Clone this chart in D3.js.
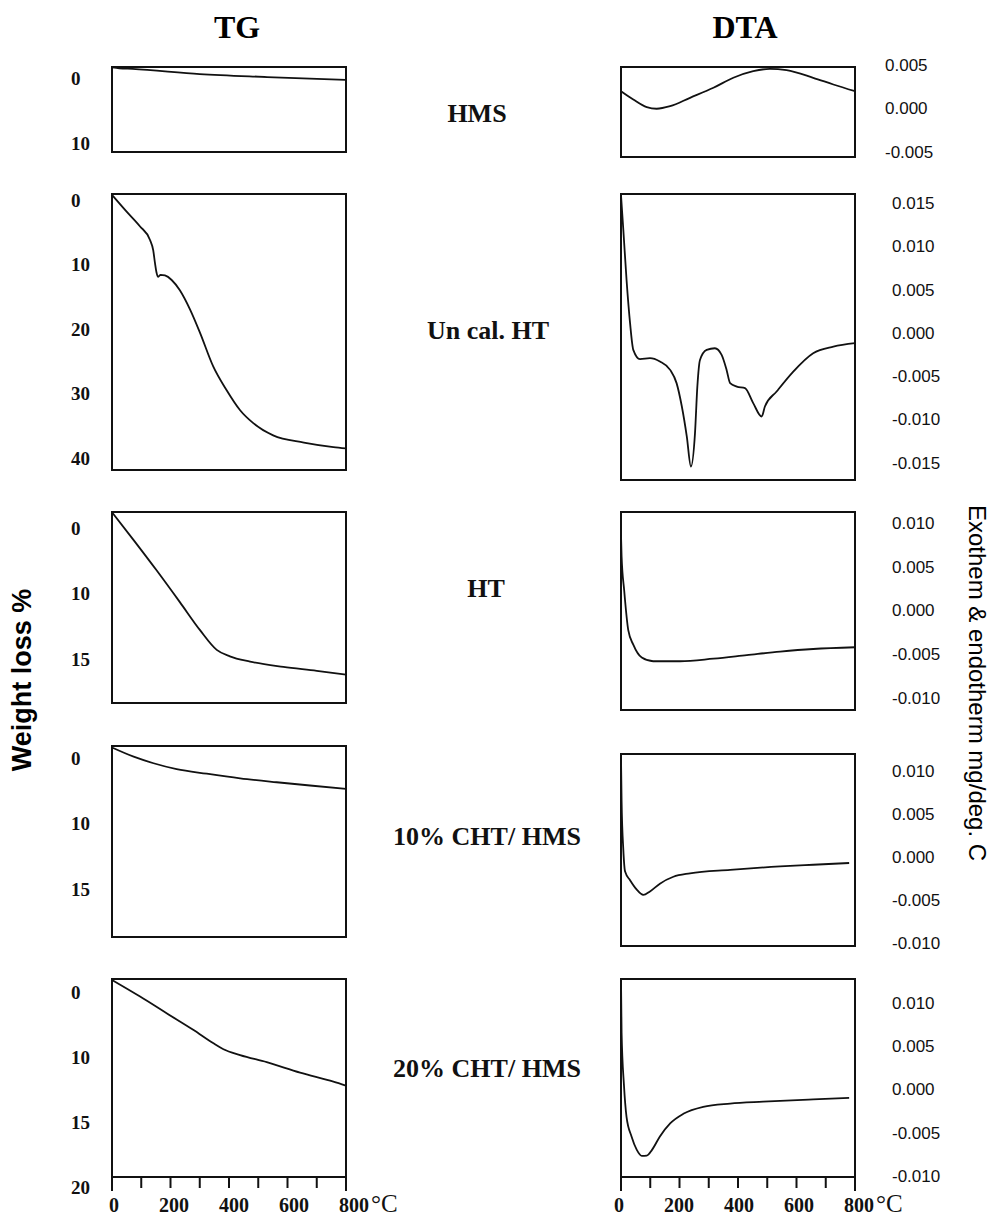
<!DOCTYPE html>
<html><head><meta charset="utf-8">
<script src="https://cdn.jsdelivr.net/npm/d3@7"></script>
<style>body{margin:0;background:#fff}</style>
</head><body>
<svg id="c" width="993" height="1219"></svg>
<script>
// ---------------- DATA ----------------
const samples = ["HMS", "Un cal. HT", "HT", "10% CHT/ HMS", "20% CHT/ HMS"];
const tempTicks = [0, 100, 200, 300, 400, 500, 600, 700, 800];
const tempLabels = [0, 200, 400, 600, 800];
const tempUnit = "°C";

// TG tick labels (weight loss %) per sample
const tgTickLabels = [
  [0, 10],
  [0, 10, 20, 30, 40],
  [0, 10, 15],
  [0, 10, 15],
  [0, 10, 15, 20]
];
// DTA tick labels (mg/deg. C) per sample
const dtaTickLabels = [
  [0.005, 0.000, -0.005],
  [0.015, 0.010, 0.005, 0.000, -0.005, -0.010, -0.015],
  [0.010, 0.005, 0.000, -0.005, -0.010],
  [0.010, 0.005, 0.000, -0.005, -0.010],
  [0.010, 0.005, 0.000, -0.005, -0.010]
];

// TG curves: [temperature °C, weight loss %]
const tgHMS = [[0,-1.63],[25,-1.5],[70,-1.4],[300,-0.6],[530,-0.15],[800,0.3]];
const tgUncalHT = [[0,-0.8],[50,1.8],[96,4.1],[130,6.2],[141,7.8],[147,9.8],[152,11.2],[158,11.9],[166,11.6],[181,11.7],[204,12.4],[232,14.0],[267,17.0],[301,20.6],[346,25.8],[392,29.5],[438,32.6],[483,34.6],[551,36.5],[656,37.6],[757,38.3],[800,38.5]];
const tgHT = [[0,-2.4],[74,1.85],[153,6.5],[232,10.66],[301,12.8],[358,14.3],[403,14.8],[472,15.2],[586,15.6],[700,15.9],[800,16.2]];
const tg10CHT = [[0,-1.6],[74,-0.2],[142,0.8],[221,1.7],[324,2.4],[438,3.1],[563,3.7],[677,4.2],[800,4.7]];
const tg20CHT = [[0,-1.85],[96,0.7],[188,3.3],[279,5.85],[347,7.9],[381,8.8],[438,9.7],[529,10.4],[643,11.2],[757,11.9],[800,12.2]];

// DTA curves: [temperature °C, signal mg/deg. C]
const dtaHMS = [[0,0.00199],[42,0.00103],[88,0.00015],[122,-0.00003],[168,0.00026],[236,0.00123],[316,0.00238],[384,0.00353],[452,0.00429],[509,0.00456],[566,0.0044],[657,0.00353],[726,0.00276],[800,0.00199]];
const dtaUncalHT = [[0,0.0159],[8,0.01188],[19,0.00611],[31,0.00112],[42,-0.00196],[65,-0.00303],[99,-0.00292],[133,-0.00331],[168,-0.00427],[190,-0.0058],[208,-0.0085],[225,-0.01197],[239,-0.01543],[253,-0.01157],[261,-0.0062],[270,-0.00312],[293,-0.00196],[321,-0.00177],[344,-0.00254],[361,-0.00427],[373,-0.0058],[396,-0.0062],[424,-0.00638],[452,-0.00811],[481,-0.00966],[492,-0.0085],[532,-0.00677],[589,-0.00446],[657,-0.00234],[726,-0.00158],[800,-0.00119]];
const dtaHT = [[0,0.00864],[2,0.0062],[11,0.00226],[25,-0.00228],[42,-0.0039],[71,-0.00538],[110,-0.0058],[202,-0.0058],[316,-0.0055],[430,-0.0051],[544,-0.0047],[657,-0.0044],[800,-0.0042]];
const dta10CHT = [[0,0.0115],[2,0.00655],[8,0.0008],[14,-0.0017],[31,-0.0027],[54,-0.0038],[76,-0.0044],[99,-0.0040],[133,-0.0031],[179,-0.0023],[236,-0.0019],[373,-0.0015],[544,-0.0011],[657,-0.0009],[780,-0.0007]];
const dta20CHT = [[0,0.0126],[2,0.00656],[10,0.00057],[19,-0.00319],[36,-0.00543],[54,-0.00698],[71,-0.00767],[88,-0.00764],[106,-0.00698],[133,-0.00543],[168,-0.00392],[213,-0.00281],[281,-0.002],[373,-0.00163],[486,-0.00141],[657,-0.00114],[780,-0.00097]];

const tgSeries = [tgHMS, tgUncalHT, tgHT, tg10CHT, tg20CHT];
const dtaSeries = [dtaHMS, dtaUncalHT, dtaHT, dta10CHT, dta20CHT];

// ---------------- LAYOUT ----------------
const leftX = [112, 346], rightX = [621, 855];
const tgBoxes = [
  {top: 67,  bottom: 152,  first: 11, step: 65},
  {top: 194, bottom: 470,  first: 6,  step: 64.5},
  {top: 512, bottom: 703,  first: 16, step: 65.5},
  {top: 746, bottom: 937,  first: 12, step: 65.5},
  {top: 979, bottom: 1177, first: 13, step: 65}
];
const dtaBoxes = [
  {top: 67,  bottom: 157,  first: -2, step: 43.5, lx: 885},
  {top: 194, bottom: 480,  first: 9,  step: 43.3, lx: 892},
  {top: 512, bottom: 710,  first: 11, step: 43.75, lx: 892},
  {top: 754, bottom: 946,  first: 17, step: 43, lx: 892},
  {top: 979, bottom: 1177, first: 24, step: 43.25, lx: 892}
];
const sampleLabelPos = [[477,122],[488,339],[486,597],[487,845],[487,1077]];

const svg = d3.select("#c");
const serif = "'Liberation Serif','Times New Roman',serif";
const sans = "'Liberation Sans',Arial,sans-serif";

function drawPanel(xr, box, ticks, data, labelX, anchor, font, fsize, weight, fmt) {
  const g = svg.append("g");
  const x = d3.scaleLinear().domain([0, 800]).range(xr);
  const y = d3.scaleLinear().domain(ticks).range(ticks.map((_, i) => box.top + box.first + i * box.step));
  g.append("rect")
    .attr("x", xr[0]).attr("y", box.top)
    .attr("width", xr[1] - xr[0]).attr("height", box.bottom - box.top)
    .attr("fill", "none").attr("stroke", "#111").attr("stroke-width", 2);
  g.append("path").datum(data)
    .attr("fill", "none").attr("stroke", "#111").attr("stroke-width", 1.8)
    .attr("stroke-linejoin", "round")
    .attr("d", d3.line().x(d => x(d[0])).y(d => y(d[1])).curve(d3.curveMonotoneX));
  g.selectAll("text.tk").data(ticks).enter().append("text")
    .attr("x", labelX).attr("y", d => y(d)).attr("dy", "0.35em")
    .attr("text-anchor", anchor)
    .style("font-family", font).style("font-size", fsize + "px").style("font-weight", weight)
    .attr("fill", "#111")
    .text(fmt);
  return x;
}

function tempAxis(xr, bottom, labelRange) {
  const x = d3.scaleLinear().domain([0, 800]).range(xr);
  const xl = d3.scaleLinear().domain([0, 800]).range(labelRange);
  const g = svg.append("g");
  g.selectAll("line").data(tempTicks).enter().append("line")
    .attr("x1", d => x(d)).attr("x2", d => x(d))
    .attr("y1", bottom).attr("y2", (d, i) => bottom + (i === 0 || i === tempTicks.length - 1 ? 14 : 11))
    .attr("stroke", "#111").attr("stroke-width", 2);
  g.selectAll("text.tl").data(tempLabels).enter().append("text")
    .attr("x", d => xl(d)).attr("y", 1212).attr("text-anchor", "middle")
    .style("font-family", serif).style("font-size", "20px").style("font-weight", "bold")
    .attr("fill", "#111").text(d => d);
  g.append("text").attr("x", xl(800) + 17).attr("y", 1212)
    .style("font-family", serif).style("font-size", "25px")
    .attr("fill", "#111").text(tempUnit);
}

for (let i = 0; i < samples.length; i++) {
  drawPanel(leftX, tgBoxes[i], tgTickLabels[i], tgSeries[i], 71, "start", serif, 19, "bold", d => d);
  drawPanel(rightX, dtaBoxes[i], dtaTickLabels[i], dtaSeries[i], dtaBoxes[i].lx, "start", sans, 17, "normal", d => d3.format(".3f")(d).replace("−", "-"));
  svg.append("text").attr("x", sampleLabelPos[i][0]).attr("y", sampleLabelPos[i][1])
    .attr("text-anchor", "middle")
    .style("font-family", serif).style("font-size", "26px").style("font-weight", "bold")
    .attr("fill", "#111").text(samples[i]);
}
tempAxis(leftX, 1177, [114, 354]);
tempAxis(rightX, 1177, [619, 859]);

// headings
svg.append("text").attr("x", 237).attr("y", 38).attr("text-anchor", "middle")
  .style("font-family", serif).style("font-size", "32px").style("font-weight", "bold").text("TG");
svg.append("text").attr("x", 745).attr("y", 38).attr("text-anchor", "middle")
  .style("font-family", serif).style("font-size", "32px").style("font-weight", "bold").text("DTA");

// axis titles
svg.append("text").attr("transform", "translate(22,680) rotate(-90)").attr("text-anchor", "middle")
  .attr("dy", "0.35em")
  .style("font-family", sans).style("font-size", "27px").style("font-weight", "bold").text("Weight loss %");
svg.append("text").attr("transform", "translate(977,683) rotate(90)").attr("text-anchor", "middle")
  .attr("dy", "0.35em")
  .style("font-family", sans).style("font-size", "24px").text("Exothem & endotherm mg/deg. C");
</script>
</body></html>
